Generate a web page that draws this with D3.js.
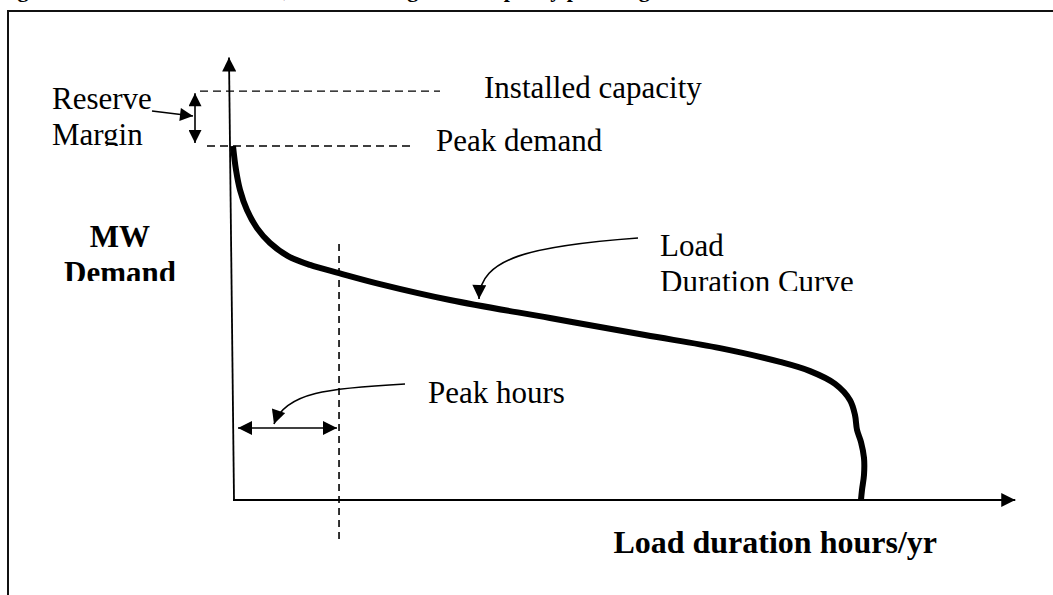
<!DOCTYPE html>
<html>
<head>
<meta charset="utf-8">
<script src="https://cdn.jsdelivr.net/npm/d3@7"></script>
<style>
  body { margin: 0; background: #fff; }
  text { font-family: "Liberation Serif", "Times New Roman", serif; fill: #000; }
</style>
</head>
<body>
<svg width="1053" height="595"></svg>
<script>
// load duration curve (hours/yr vs MW)
const hours = [0, 42, 97, 194, 333, 514, 764, 1069, 1472, 2041, 3013, 4401, 5720, 6761,
  7594, 8011, 8358, 8566, 8635, 8663, 8718, 8760, 8760, 8732, 8718];
const demandMW = [1000, 932, 876, 819, 768, 726, 689, 664, 641, 610, 565, 514, 466, 429,
  390, 364, 328, 282, 240, 198, 164, 119, 71, 28, 0];

// reference levels
const peakDemand = 1000;
const installedCapacity = 1155;
const peakHoursEnd = 1472;
const yAxisMax = 1250;
const xAxisMax = 10860;

// texts
const titleText = "Figure 1: Load duration curve, reserve margin and capacity planning";
const yLabel = ["MW", "Demand"];
const xLabel = "Load duration hours/yr";
const reserveLabel = ["Reserve", "Margin"];
const curveLabel = ["Load", "Duration Curve"];

var svg = d3.select("svg");

var x = d3.scaleLinear().domain([0, 8760]).range([233, 864]);
var y = d3.scaleLinear().domain([0, 1000]).range([500, 146]);

// arrow heads
const defs = svg.append("defs");
function addMarker(id, w, h) {
  defs.append("marker")
    .attr("id", id)
    .attr("viewBox", "0 0 10 10")
    .attr("refX", 10)
    .attr("refY", 5)
    .attr("markerUnits", "userSpaceOnUse")
    .attr("markerWidth", w)
    .attr("markerHeight", h)
    .attr("orient", "auto-start-reverse")
    .append("path")
    .attr("d", "M0,0L10,5L0,10Z")
    .attr("fill", "#000");
}
addMarker("bigArrow", 16, 14);
addMarker("midArrow", 16, 14);
addMarker("smallArrow", 14, 13);

// title, almost all of it above the page
svg.append("text")
  .attr("x", -2)
  .attr("y", -3)
  .attr("font-size", 22)
  .attr("font-weight", "bold")
  .text(titleText);

// frame
svg.append("path")
  .attr("d", "M8,595V11H1053")
  .attr("fill", "none")
  .attr("stroke", "#111")
  .attr("stroke-width", 2);

// axes
svg.append("line")
  .attr("x1", x(0) + 1).attr("y1", y(0))
  .attr("x2", x(0) - 4).attr("y2", y(yAxisMax))
  .attr("stroke", "#000").attr("stroke-width", 1.8)
  .attr("marker-end", "url(#bigArrow)");

svg.append("line")
  .attr("x1", x(0)).attr("y1", y(0))
  .attr("x2", x(xAxisMax)).attr("y2", y(0))
  .attr("stroke", "#000").attr("stroke-width", 2)
  .attr("marker-end", "url(#bigArrow)");

// installed capacity / peak demand levels
svg.append("line")
  .attr("x1", x(0) - 33).attr("x2", x(0) + 207)
  .attr("y1", y(installedCapacity)).attr("y2", y(installedCapacity))
  .attr("stroke", "#000").attr("stroke-width", 1.4)
  .attr("stroke-dasharray", "8,5");

svg.append("line")
  .attr("x1", x(0) - 26).attr("x2", x(0) + 177)
  .attr("y1", y(peakDemand)).attr("y2", y(peakDemand))
  .attr("stroke", "#000").attr("stroke-width", 1.4)
  .attr("stroke-dasharray", "8,5");

// peak hours boundary
svg.append("line")
  .attr("x1", x(peakHoursEnd)).attr("x2", x(peakHoursEnd))
  .attr("y1", y(723)).attr("y2", y(-118))
  .attr("stroke", "#000").attr("stroke-width", 1.6)
  .attr("stroke-dasharray", "7,5");

// the curve
var line = d3.line()
  .x((d, i) => x(hours[i]))
  .y((d) => y(d))
  .curve(d3.curveCatmullRom.alpha(0.5));

svg.append("path")
  .datum(demandMW)
  .attr("d", line)
  .attr("fill", "none")
  .attr("stroke", "#000")
  .attr("stroke-width", 6)
  .attr("stroke-linejoin", "round");

// reserve margin double arrow
const rmX = x(0) - 38;
svg.append("line")
  .attr("x1", rmX).attr("x2", rmX)
  .attr("y1", y(installedCapacity) + 2).attr("y2", y(peakDemand) - 3)
  .attr("stroke", "#000").attr("stroke-width", 1.6)
  .attr("marker-start", "url(#smallArrow)")
  .attr("marker-end", "url(#smallArrow)");

svg.append("line")
  .attr("x1", 152).attr("y1", 111)
  .attr("x2", rmX - 2).attr("y2", 116)
  .attr("stroke", "#000").attr("stroke-width", 1.6)
  .attr("marker-end", "url(#smallArrow)");

// peak hours double arrow
svg.append("line")
  .attr("x1", x(0) + 5).attr("x2", x(peakHoursEnd) - 2)
  .attr("y1", 428).attr("y2", 428)
  .attr("stroke", "#000").attr("stroke-width", 1.6)
  .attr("marker-start", "url(#midArrow)")
  .attr("marker-end", "url(#midArrow)");

svg.append("path")
  .attr("d", "M405,384C330,388 285,392 274,424")
  .attr("fill", "none")
  .attr("stroke", "#000").attr("stroke-width", 1.6)
  .attr("marker-end", "url(#midArrow)");

// load duration curve pointer
svg.append("path")
  .attr("d", "M638,238C530,246 480,258 479,299")
  .attr("fill", "none")
  .attr("stroke", "#000").attr("stroke-width", 1.6)
  .attr("marker-end", "url(#midArrow)");

// two-line text boxes that cut off their second line
function clippedLabel(id, lines, px, py, clipBottom, opts) {
  defs.append("clipPath").attr("id", id)
    .append("rect")
    .attr("x", 0).attr("y", 0)
    .attr("width", 1053).attr("height", clipBottom);
  const t = svg.append("text")
    .attr("clip-path", "url(#" + id + ")")
    .attr("font-size", 31)
    .attr("font-weight", opts.bold ? "bold" : "normal")
    .attr("text-anchor", opts.anchor || "start");
  lines.forEach((s, i) => {
    t.append("tspan").attr("x", px).attr("y", py + i * 36).text(s);
  });
}

clippedLabel("clipReserve", reserveLabel, 52, 109, 146, {});
clippedLabel("clipMW", yLabel, 120, 247, 281, { bold: true, anchor: "middle" });
clippedLabel("clipCurve", curveLabel, 660, 256, 291, {});

svg.append("text")
  .attr("x", 484).attr("y", 98)
  .attr("font-size", 31)
  .text("Installed capacity");

svg.append("text")
  .attr("x", 436).attr("y", 151)
  .attr("font-size", 31)
  .text("Peak demand");

svg.append("text")
  .attr("x", 428).attr("y", 403)
  .attr("font-size", 31)
  .text("Peak hours");

svg.append("text")
  .attr("x", 937).attr("y", 553)
  .attr("font-size", 32)
  .attr("font-weight", "bold")
  .attr("text-anchor", "end")
  .text(xLabel);
</script>
</body>
</html>
